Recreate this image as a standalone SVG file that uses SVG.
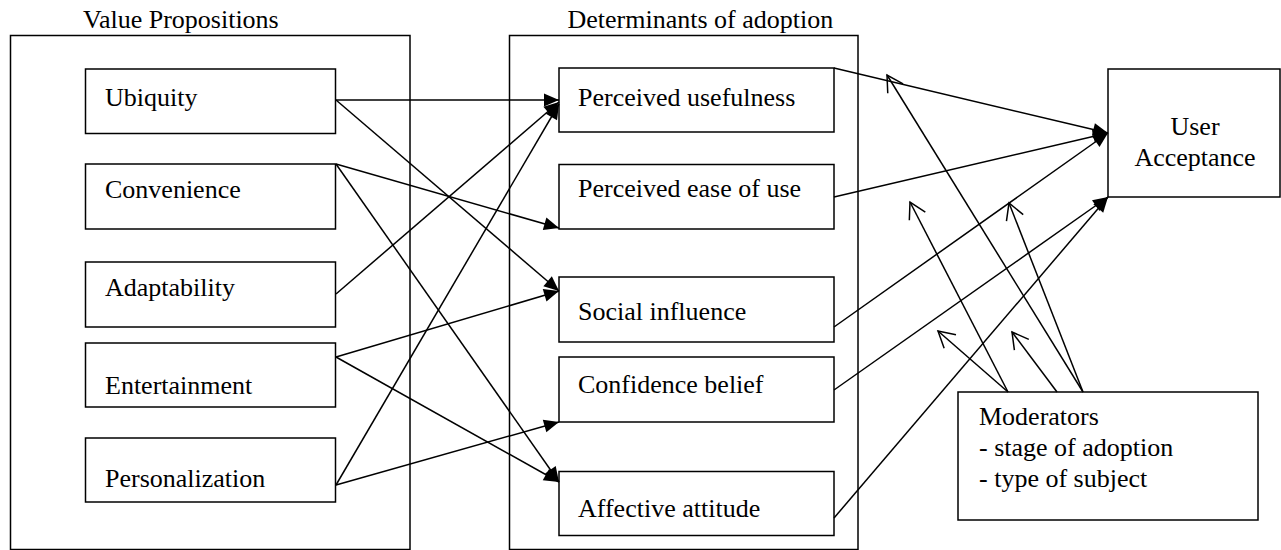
<svg xmlns="http://www.w3.org/2000/svg" width="1281" height="550" viewBox="0 0 1281 550">
<style>
text{font-family:"Liberation Serif","Times New Roman",serif;font-size:26px;fill:#000}
.box{fill:#fff;stroke:#000;stroke-width:1.5}
.grp{fill:none;stroke:#000;stroke-width:1.5}
.c{fill:none;stroke:#000;stroke-width:1.5}
.f{marker-end:url(#fa)}
.o{marker-end:url(#oa)}
</style>
<defs>
<marker id="fa" markerUnits="userSpaceOnUse" orient="auto" overflow="visible" markerWidth="1" markerHeight="1" refX="0" refY="0">
<path d="M0,0 L-15,-6.5 L-15,6.5 Z" fill="#000"/>
</marker>
<marker id="oa" markerUnits="userSpaceOnUse" orient="auto" overflow="visible" markerWidth="1" markerHeight="1" refX="0" refY="0">
<path d="M-16,-9 L0,0 L-16,9" fill="none" stroke="#000" stroke-width="1.5"/>
</marker>
</defs>
<rect width="1281" height="550" fill="#fff"/>
<g id="group-value">
<rect class="grp" x="10.5" y="35.5" width="399.5" height="514"/>
<text x="83" y="28">Value Propositions</text>
</g>
<g id="group-determinants">
<rect class="grp" x="509.5" y="35.5" width="348.5" height="514"/>
<text x="567.5" y="28">Determinants of adoption</text>
</g>
<g id="n-ubiquity"><rect class="box" x="85.5" y="69" width="250" height="64.5"/><text x="105" y="106">Ubiquity</text></g>
<g id="n-convenience"><rect class="box" x="85.5" y="164" width="250" height="65"/><text x="105" y="198">Convenience</text></g>
<g id="n-adaptability"><rect class="box" x="85.5" y="262" width="250" height="65"/><text x="105" y="296">Adaptability</text></g>
<g id="n-entertainment"><rect class="box" x="85.5" y="343" width="250" height="64"/><text x="105" y="394">Entertainment</text></g>
<g id="n-personalization"><rect class="box" x="85.5" y="438" width="250" height="64"/><text x="105" y="487">Personalization</text></g>
<g id="n-pu"><rect class="box" x="559" y="68" width="275" height="64"/><text x="578" y="106">Perceived usefulness</text></g>
<g id="n-peou"><rect class="box" x="559" y="164.5" width="275" height="64.5"/><text x="578" y="197">Perceived ease of use</text></g>
<g id="n-si"><rect class="box" x="559" y="277" width="275" height="65"/><text x="578" y="320">Social influence</text></g>
<g id="n-cb"><rect class="box" x="559" y="357" width="275" height="65"/><text x="578" y="393">Confidence belief</text></g>
<g id="n-aa"><rect class="box" x="559" y="471.5" width="275" height="64"/><text x="578" y="517">Affective attitude</text></g>
<g id="n-ua"><rect class="box" x="1108" y="69" width="172" height="128"/><text x="1195" y="135" text-anchor="middle">User</text><text x="1195" y="166" text-anchor="middle">Acceptance</text></g>
<g id="n-moderators"><rect class="box" x="958" y="392" width="300" height="128"/><text x="979" y="425">Moderators</text><text x="979" y="456">- stage of adoption</text><text x="979" y="487">- type of subject</text></g>
<g id="connectors">
<path class="c f" d="M336,100 L559,100"/>
<path class="c f" d="M336,100 L559,291"/>
<path class="c f" d="M336,164 L559,228"/>
<path class="c f" d="M336,164 L559,482"/>
<path class="c f" d="M336,294 L559,102"/>
<path class="c f" d="M336,357 L559,291"/>
<path class="c f" d="M336,357 L559,482"/>
<path class="c f" d="M336,485 L559,104"/>
<path class="c f" d="M336,485 L559,422"/>
<path class="c f" d="M834,68 L1108,133"/>
<path class="c f" d="M834,197 L1108,133"/>
<path class="c f" d="M834,327 L1108,133"/>
<path class="c f" d="M834,390 L1108,197"/>
<path class="c f" d="M834,518 L1108,197"/>
<path class="c o" d="M1008,392 L938,331"/>
<path class="c o" d="M1008,392 L910,202"/>
<path class="c o" d="M1057,392 L1012,332"/>
<path class="c o" d="M1083,392 L1009,203"/>
<path class="c o" d="M1083,392 L887,75"/>
</g>
</svg>
